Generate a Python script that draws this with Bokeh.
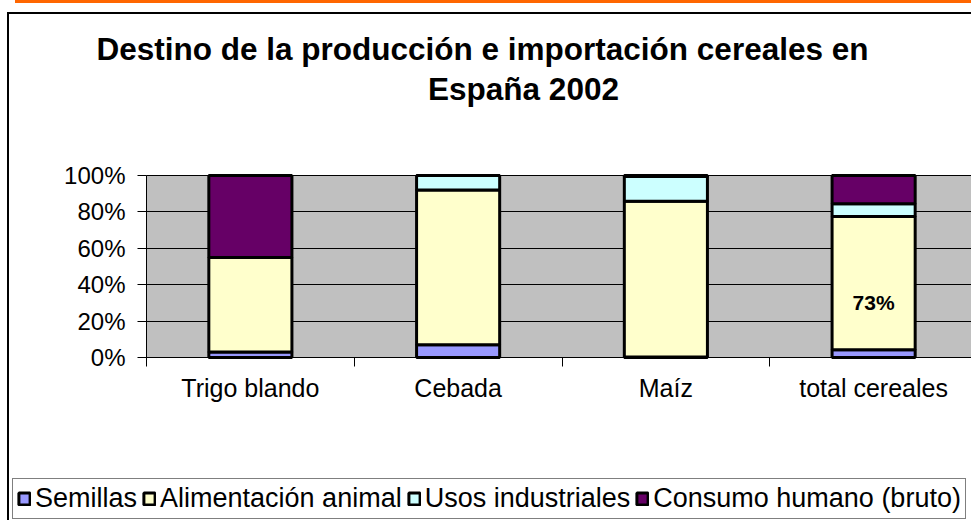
from bokeh.plotting import figure
from bokeh.models import (ColumnDataSource, Range1d, FixedTicker, PrintfTickFormatter,
                          Label, BoxAnnotation)
from bokeh.embed import file_html
from bokeh.resources import INLINE

# ---- data ----
categories = ["Trigo blando", "Cebada", "Maíz", "total cereales"]
series = ["Semillas", "Alimentación animal", "Usos industriales", "Consumo humano (bruto)"]
semillas = [3.0, 7.0, 0.3, 4.2]
alimentacion = [52.0, 85.0, 85.6, 73.3]
usos_industriales = [0.0, 8.0, 13.5, 7.0]
consumo_humano = [45.0, 0.0, 0.6, 15.5]
y_ticks = [0, 20, 40, 60, 80, 100]
title_lines = ["Destino de la producción e importación cereales en", "España 2002"]
highlight_category = "total cereales"

colors = ["#9999FF", "#FFFFCC", "#CCFFFF", "#660066"]
FONT = "Liberation Sans"

# ---- layout (pixels in the page) ----
W, H = 971, 520
PLOT_LEFT, PLOT_RIGHT, PLOT_TOP, PLOT_BOTTOM = 146, 977, 175, 357

n = len(categories)
ymax = y_ticks[-1]
kx = (PLOT_RIGHT - PLOT_LEFT) / n
ky = (PLOT_BOTTOM - PLOT_TOP) / ymax
x_range = Range1d(-PLOT_LEFT / kx, n - (PLOT_RIGHT - W) / kx)
y_range = Range1d(-(H - PLOT_BOTTOM) / ky, ymax + PLOT_TOP / ky)

centers = [i + 0.5 for i in range(n)]
bounds = list(range(n + 1))
keys = ["s0", "s1", "s2", "s3"]
src = ColumnDataSource(dict(x=centers, s0=semillas, s1=alimentacion,
                            s2=usos_industriales, s3=consumo_humano))

p = figure(width=W, height=H, output_backend="svg", toolbar_location=None,
           x_range=x_range, y_range=y_range,
           min_border_left=0, min_border_right=0, min_border_top=0, min_border_bottom=0)
p.title.visible = False
p.background_fill_alpha = 0
p.border_fill_alpha = 0
p.outline_line_color = None
# outer chart frame (left and top edges) and the orange strip, drawn as page background
p.styles = {
    "background-color": "white",
    "background-image": "linear-gradient(#FF6600,#FF6600), linear-gradient(#000,#000), linear-gradient(#000,#000)",
    "background-position": "15px 0px, 7px 12px, 7px 12px",
    "background-size": "100% 3px, 2px 100%, 100% 2px",
    "background-repeat": "no-repeat",
}

# plot area
p.add_layout(BoxAnnotation(left=0, right=n, bottom=0, top=ymax, fill_color="#C0C0C0",
                           fill_alpha=1, line_color="#808080", line_width=1, level="image"))

p.vbar_stack(keys, x="x", width=0.4, fill_color=colors, line_color="black",
             line_width=3, source=src, legend_label=series)

# y axis
yax = p.yaxis[0]
yax.fixed_location = 0
yax.bounds = (0, ymax)
yax.ticker = FixedTicker(ticks=y_ticks, minor_ticks=[])
yax.formatter = PrintfTickFormatter(format="%d%%")
yax.major_label_text_font = FONT
yax.major_label_text_font_size = "24px"
yax.major_label_text_color = "black"
yax.axis_line_color = "black"
yax.major_tick_in = 0
yax.major_tick_out = 9
yax.minor_tick_line_color = None
yax.major_label_standoff = 12

p.ygrid.ticker = FixedTicker(ticks=y_ticks, minor_ticks=[])
p.ygrid.cross_bounds = (0, n)
p.ygrid.grid_line_color = "black"
p.ygrid.grid_line_width = 1
p.xgrid.visible = False

# x axis
xax = p.xaxis[0]
xax.fixed_location = 0
xax.bounds = (0, n)
xax.ticker = FixedTicker(ticks=centers, minor_ticks=bounds)
xax.major_label_overrides = {c: lab for c, lab in zip(centers, categories)}
xax.major_tick_in = 0
xax.major_tick_out = 0
xax.minor_tick_in = 0
xax.minor_tick_out = 9
xax.minor_tick_line_color = "black"
xax.axis_line_color = "black"
xax.major_label_text_font = FONT
xax.major_label_text_font_size = "25px"
xax.major_label_text_color = "black"
xax.major_label_standoff = 7

# value label
hi = categories.index(highlight_category)
p.add_layout(Label(x=centers[hi], y=30, text=f"{round(alimentacion[hi])}%",
                   text_font=FONT, text_font_size="21px", text_font_style="bold",
                   text_align="center", text_baseline="middle", text_color="black"))

# title (screen units measured from the bottom-left of the canvas)
for txt, cx, base in [(title_lines[0], 482, 48), (title_lines[1], 523, 88)]:
    p.add_layout(Label(x=cx, y=H - base, x_units="screen", y_units="screen", text=txt,
                       text_font=FONT, text_font_size="31.5px", text_font_style="bold",
                       text_align="center", text_baseline="alphabetic", text_color="black"))

# legend
lg = p.legend[0]
lg.location = (12, 1)
lg.orientation = "horizontal"
lg.margin = 0
lg.padding = 4
lg.spacing = 5
lg.glyph_width = 14
lg.glyph_height = 15
lg.label_standoff = 4
lg.label_text_font = FONT
lg.label_text_font_size = "27px"
lg.label_text_color = "black"
lg.border_line_color = "black"
lg.border_line_width = 1
lg.background_fill_color = "white"
lg.background_fill_alpha = 1

open("out.html", "w").write(file_html(p, INLINE))
